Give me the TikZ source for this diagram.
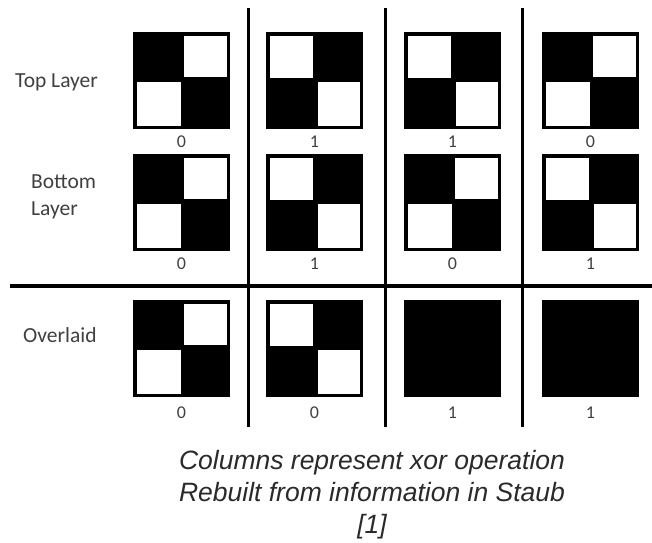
\documentclass[tikz,border=0pt]{standalone}
\usepackage{fontspec}
\newfontfamily\calib{Carlito}
\newfontfamily\arialfam{Liberation Sans}
\definecolor{labgray}{HTML}{404040}
\definecolor{capgray}{HTML}{2A2A2A}
\newcommand\numfont{\calib\fontsize{18}{20}\selectfont}
\newcommand\sidefont{\calib\fontsize{21.5}{27}\selectfont}
\newcommand\capfont{\arialfam\itshape\fontsize{26.5}{32}\selectfont}
\tikzset{
  blk/.style={fill=black},
  wht/.style={fill=white},
  sep/.style={draw=black, line width=3pt},
  num/.style={font=\numfont, text=labgray, inner sep=0pt},
  side/.style={font=\sidefont, text=labgray, align=left, inner sep=0pt},
  captxt/.style={font=\capfont, text=capgray, align=center, inner sep=0pt}
}
\begin{document}
\begin{tikzpicture}[x=1pt,y=-1pt]
\useasboundingbox (0,0) rectangle (652,542);
\fill[white] (0,0) rectangle (652,542);
% separator lines
\coordinate (v1t) at (248,8);   \coordinate (v1b) at (248,427);
\coordinate (v2t) at (385,8);   \coordinate (v2b) at (385,427);
\coordinate (v3t) at (522,8);   \coordinate (v3b) at (522,427);
\coordinate (hl) at (10,286);   \coordinate (hr) at (652,286);
\draw[sep] (v1t) -- (v1b);
\draw[sep] (v2t) -- (v2b);
\draw[sep] (v3t) -- (v3b);
\draw[sep, line width=3.5pt] (hl) -- (hr);
% squares: pattern A (white top-right, bottom-left)
\foreach \x/\y in {133/32, 542/32, 133/154, 404/154, 133/300}{
  \fill[blk] (\x,\y) rectangle (\x+97,\y+97);
  \fill[wht] (\x+51,\y+3.5) rectangle (\x+94,\y+45);
  \fill[wht] (\x+4,\y+50) rectangle (\x+48,\y+93.5);
}
% pattern B (white top-left, bottom-right)
\foreach \x/\y in {266/32, 404/32, 266/154, 542/154, 266/300}{
  \fill[blk] (\x,\y) rectangle (\x+97,\y+97);
  \fill[wht] (\x+4,\y+3.5) rectangle (\x+47,\y+46);
  \fill[wht] (\x+52,\y+50) rectangle (\x+93.5,\y+93.5);
}
% full black
\foreach \x/\y in {404/300, 542/300}{
  \fill[blk] (\x,\y) rectangle (\x+97,\y+97);
}
% numbers
\foreach \x/\a/\b/\c [count=\i] in {181.5/0/0/0, 314.5/1/1/0, 452.5/1/0/1, 590.5/0/1/1}{
  \node[num] (t\i) at (\x,142) {\a};
  \node[num] (b\i) at (\x,264) {\b};
  \node[num] (o\i) at (\x,413) {\c};
}
% side labels
\node[side, anchor=west] (top) at (15,82) {Top Layer};
\node[side, anchor=north west] (bot) at (31,174) {Bottom\\Layer};
\node[side, anchor=west] (ovl) at (23,335) {Overlaid};
% caption
\node[captxt] (capt) at (372,495) {Columns represent xor operation\\Rebuilt from information in Staub\\{}[1]};
\end{tikzpicture}
\end{document}
